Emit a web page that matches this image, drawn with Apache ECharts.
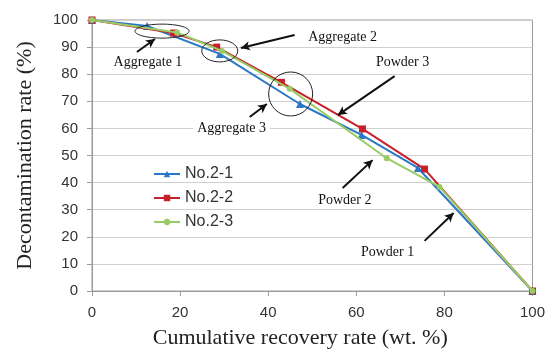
<!DOCTYPE html>
<html>
<head>
<meta charset="utf-8">
<script src="https://cdn.jsdelivr.net/npm/echarts@6/dist/echarts.min.js"></script>
<style>
  html, body { margin: 0; padding: 0; background: #fff; }
  #chart { width: 548px; height: 356px; }
</style>
</head>
<body>
<div id="chart"></div>
<script>
// 数据：累计回收率 (x) 与 去污率 (y)
const seriesNames = ['No.2-1', 'No.2-2', 'No.2-3'];
const recovery21 = [0, 12.5, 29, 47.2, 61.2, 74, 100];
const decon21 = [100, 97.8, 87.5, 69, 57.6, 45.4, 0];
const recovery22 = [0, 18.5, 28.3, 43, 61.4, 75.5, 100];
const decon22 = [100, 95.2, 90, 77, 59.8, 45, 0];
const recovery23 = [0, 19.3, 29.5, 44.9, 66.9, 78.9, 100];
const decon23 = [100, 95.4, 88.6, 74.6, 49, 38.4, 0];
const xTicks = [0, 20, 40, 60, 80, 100];

// 注释（数据坐标）
const noteTexts = ['Aggregate 1', 'Aggregate 2', 'Powder 3', 'Aggregate 3', 'Powder 2', 'Powder 1'];
const notePos = [[12.7, 84.5], [56.9, 93.7], [70.5, 84.5], [31.7, 60.1], [57.4, 33.6], [67.1, 14.4]];
const arrowFrom = [[10.2, 88.2], [46.0, 94.5], [68.7, 79.3], [35.8, 64.2], [56.9, 38.0], [75.5, 18.5]];
const arrowTo = [[14.3, 93.0], [33.8, 89.7], [55.8, 64.9], [39.7, 69.0], [63.7, 48.3], [82.1, 28.8]];
const ringCenters = [[15.9, 95.9], [29.0, 88.6], [45.1, 72.7]];
const ringSizes = [[27, 7], [18, 11], [22, 22]];

const chart = echarts.init(document.getElementById('chart'));
const colors = ['#2a78c6', '#c8202a', '#99cc66'];
const symbols = ['triangle', 'rect', 'circle'];
const symbolSizes = [8, 7, 6];
const xs = [recovery21, recovery22, recovery23];
const ys = [decon21, decon22, decon23];

const series = seriesNames.map((name, i) => ({
  name,
  type: 'line',
  data: xs[i].map((x, k) => [x, ys[i][k]]),
  symbol: symbols[i],
  symbolSize: symbolSizes[i],
  color: colors[i],
  lineStyle: { width: 2, color: colors[i] },
  itemStyle: { color: colors[i] },
  z: 3 + i
}));

// 箭头用 markLine 画（数据坐标）
series.push({
  type: 'line',
  data: [],
  silent: true,
  z: 10,
  markLine: {
    silent: true,
    symbol: ['none', 'arrow'],
    symbolSize: [7, 9],
    label: { show: false },
    lineStyle: { color: '#111', width: 2, type: 'solid' },
    data: arrowFrom.map((p, i) => [{ coord: p }, { coord: arrowTo[i] }])
  }
});

chart.setOption({
  animation: false,
  grid: { left: 92, right: 15, top: 20, bottom: 65, show: true, borderColor: '#9a9a9a', borderWidth: 1 },
  legend: {
    data: seriesNames,
    orient: 'vertical',
    left: 148,
    top: 161,
    itemGap: 8,
    itemWidth: 26,
    itemHeight: 8,
    textStyle: { fontFamily: 'Liberation Sans', fontSize: 16, color: '#333' }
  },
  xAxis: {
    type: 'value',
    min: 0, max: 100, interval: 20,
    name: 'Cumulative recovery rate (wt. %)',
    nameLocation: 'middle',
    nameGap: 36,
    nameTextStyle: { fontFamily: 'Liberation Serif', fontSize: 22, color: '#222', padding: [0, 24, 0, 0] },
    axisLine: { show: true, lineStyle: { color: '#9a9a9a' } },
    axisTick: { show: true, length: 5, lineStyle: { color: '#9a9a9a' } },
    axisLabel: { margin: 14, fontFamily: 'Liberation Sans', fontSize: 15, color: '#333',
      formatter: v => xTicks.includes(v) ? String(v) : '' },
    splitLine: { show: false }
  },
  yAxis: {
    type: 'value',
    min: 0, max: 100, interval: 10,
    name: 'Decontamination rate (%)',
    nameLocation: 'middle',
    nameGap: 56,
    nameTextStyle: { fontFamily: 'Liberation Serif', fontSize: 22, color: '#222' },
    axisLine: { show: true, lineStyle: { color: '#9a9a9a' } },
    axisTick: { show: true, length: 5, lineStyle: { color: '#9a9a9a' } },
    axisLabel: { margin: 14, fontFamily: 'Liberation Sans', fontSize: 15, color: '#333' },
    splitLine: { show: true, lineStyle: { color: '#cfcfcf' } }
  },
  series
});

// 椭圆圈和文字注释
function drawNotes() {
  const els = [];
  ringCenters.forEach((c, i) => {
    const p = chart.convertToPixel({ gridIndex: 0 }, c);
    els.push({
      type: 'ellipse', z: 20, silent: true,
      shape: { cx: p[0], cy: p[1], rx: ringSizes[i][0], ry: ringSizes[i][1] },
      style: { fill: null, stroke: '#222', lineWidth: 1 }
    });
  });
  noteTexts.forEach((t, i) => {
    const p = chart.convertToPixel({ gridIndex: 0 }, notePos[i]);
    els.push({
      type: 'text', z: 19, silent: true,
      x: p[0], y: p[1],
      style: {
        text: t, fontFamily: 'Liberation Serif', fontSize: 14, fill: '#111',
        align: 'center', verticalAlign: 'middle',
        backgroundColor: '#fff', padding: [2, 4]
      }
    });
  });
  chart.setOption({ graphic: els });
}
drawNotes();

window.addEventListener('resize', () => { chart.resize(); drawNotes(); });
</script>
</body>
</html>
